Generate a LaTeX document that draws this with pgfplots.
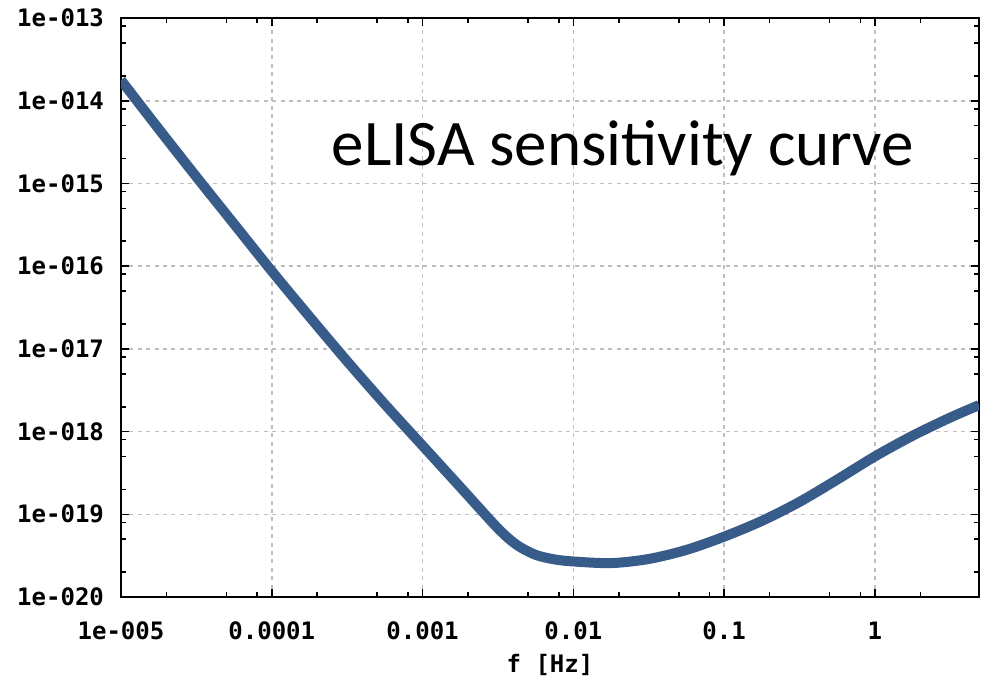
\documentclass[border=0pt]{standalone}
\usepackage{fontspec}
\setmainfont{Carlito}
\newfontfamily\tickfont{DejaVu Sans Mono}
\usepackage{pgfplots}
\pgfplotsset{compat=1.18}
\definecolor{curveblue}{RGB}{56,92,138}
\begin{document}
\begin{tikzpicture}
\begin{axis}[
  scale only axis,
  width=429pt, height=289.5pt,
  xmode=log, ymode=log,
  xmin=1e-5, xmax=4.9,
  ymin=1e-20, ymax=1e-13,
  axis line style={black, line width=1pt},
  major tick length=4pt, minor tick length=2.5pt,
  every tick/.style={black, line width=0.8pt},
  xtick={1e-5,1e-4,1e-3,1e-2,1e-1,1},
  xticklabels={1e-005,0.0001,0.001,0.01,0.1,1},
  ytick={1e-20,1e-19,1e-18,1e-17,1e-16,1e-15,1e-14,1e-13},
  yticklabels={1e-020,1e-019,1e-018,1e-017,1e-016,1e-015,1e-014,1e-013},
  minor xtick={2e-5,5e-5,8e-5,2e-4,5e-4,8e-4,2e-3,5e-3,8e-3,2e-2,5e-2,8e-2,0.2,0.5,0.8,2},
  minor ytick={2e-20,5e-20,8e-20,2e-19,5e-19,8e-19,2e-18,5e-18,8e-18,2e-17,5e-17,8e-17,2e-16,5e-16,8e-16,2e-15,5e-15,8e-15,2e-14,5e-14,8e-14},
  xmajorgrids, ymajorgrids,
  major grid style={gray!50, line width=0.8pt, dash pattern=on 2pt off 2.2pt},
  tick label style={font=\tickfont\bfseries\fontsize{12}{13}\selectfont, black},
  xticklabel style={yshift=-9pt},
  yticklabel style={xshift=-5pt},
  xlabel={f [Hz]},
  xlabel style={font=\tickfont\bfseries\fontsize{12}{13}\selectfont, yshift=0pt},
  clip=true,
]
\addplot[curveblue, line width=5pt, smooth, tension=0.5, line cap=butt] coordinates {
(1e-5,1.778e-14)
(1.778e-5,4.571e-15)
(3.162e-5,1.202e-15)
(5.623e-5,3.236e-16)
(1e-4,8.710e-17)
(1.778e-4,2.455e-17)
(3.162e-4,7.079e-18)
(5.623e-4,2.138e-18)
(1e-3,6.761e-19)
(1.778e-3,2.138e-19)
(3.162e-3,6.761e-20)
(4.217e-3,4.266e-20)
(5.623e-3,3.236e-20)
(7.499e-3,2.851e-20)
(1e-2,2.692e-20)
(1.778e-2,2.570e-20)
(3.162e-2,2.884e-20)
(5.623e-2,3.715e-20)
(0.1,5.370e-20)
(0.1778,8.318e-20)
(0.3162,1.413e-19)
(0.5623,2.630e-19)
(1,5.012e-19)
(1.778,8.913e-19)
(3.162,1.479e-18)
(4.9,2.089e-18)
};
\node[font=\fontsize{32.5}{36}\selectfont] at (rel axis cs:0.585,0.775) {eLISA sensitivity curve};
\end{axis}
\pgfresetboundingbox
\path ([shift={(-60.5pt,-43pt)}]current axis.south west) rectangle ([shift={(3.5pt,9pt)}]current axis.north east);
\end{tikzpicture}
\end{document}
